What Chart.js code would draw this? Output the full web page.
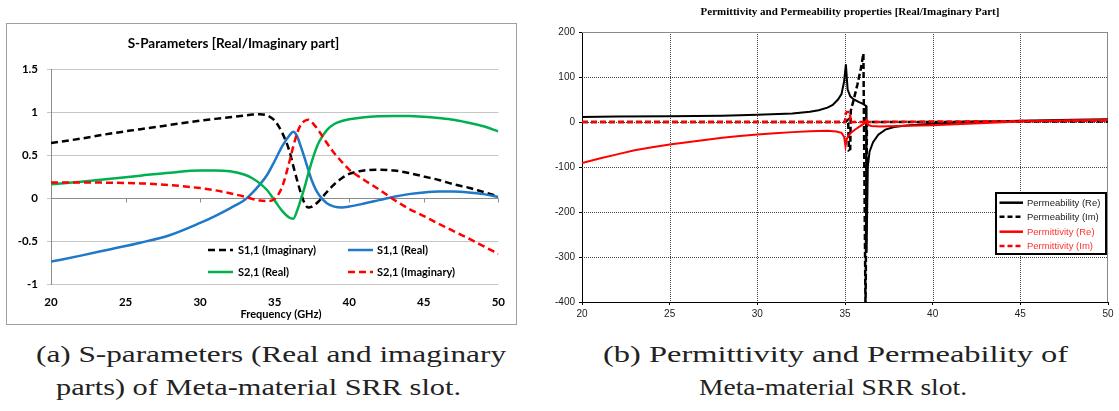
<!DOCTYPE html>
<html><head><meta charset="utf-8">
<script src="https://cdn.jsdelivr.net/npm/chart.js@4"></script>
<style>
html,body{margin:0;padding:0;background:#fff;width:1119px;height:411px;overflow:hidden;position:relative}
#frameA{position:absolute;left:6px;top:23px;width:511px;height:302px;box-sizing:border-box;border:1px solid #a0a0a0;background:#fff}
#cA{position:absolute;left:7px;top:24px;width:509px;height:300px}
#cB{position:absolute;left:540px;top:0px;width:579px;height:330px}
.cap{position:absolute;font-family:"Liberation Serif","Times New Roman",serif;font-size:24px;line-height:24px;white-space:nowrap;color:#222;transform-origin:0 0}
</style></head><body>
<div id="frameA"></div>
<canvas id="cA" width="509" height="300"></canvas>
<canvas id="cB" width="579" height="330"></canvas>
<div class="cap" data-w="470" style="left:36px;top:342px">(a) S-parameters (Real and imaginary</div>
<div class="cap" data-w="405" style="left:56px;top:375px">parts) of Meta-material SRR slot.</div>
<div class="cap" data-w="465" style="left:603px;top:342px">(b) Permittivity and Permeability of</div>
<div class="cap" data-w="268" style="left:699px;top:375px">Meta-material SRR slot.</div>
<script>
// ---------- (a) S-parameters ----------
const freqS   = [20,22,24,26,28,30,31,32,33,33.5,34,34.5,35,35.5,36,36.25,36.5,36.75,37,37.25,37.5,37.75,38,38.5,39,39.5,40,41,42,43,44,45,46,47,48,49,50];
const s11Imag = [0.64,0.69,0.75,0.80,0.85,0.90,0.92,0.94,0.96,0.97,0.975,0.96,0.90,0.76,0.54,0.37,0.21,0.06,-0.06,-0.11,-0.10,-0.07,-0.03,0.07,0.16,0.23,0.28,0.32,0.33,0.32,0.29,0.25,0.21,0.16,0.12,0.07,0.02];
const s11Real = [-0.74,-0.67,-0.595,-0.52,-0.43,-0.29,-0.21,-0.12,-0.02,0.06,0.155,0.27,0.43,0.60,0.73,0.77,0.72,0.60,0.47,0.33,0.20,0.10,0.03,-0.06,-0.10,-0.11,-0.10,-0.065,-0.025,0.015,0.045,0.065,0.075,0.075,0.065,0.045,0.01];
const s21Real = [0.16,0.19,0.225,0.26,0.295,0.32,0.32,0.31,0.27,0.23,0.17,0.09,-0.03,-0.15,-0.23,-0.24,-0.15,-0.02,0.12,0.28,0.43,0.56,0.66,0.79,0.86,0.895,0.915,0.94,0.95,0.953,0.953,0.945,0.93,0.91,0.875,0.835,0.775];
const s21Imag = [0.18,0.18,0.178,0.17,0.15,0.115,0.09,0.055,0.015,-0.01,-0.03,-0.035,-0.01,0.13,0.43,0.60,0.75,0.85,0.895,0.91,0.88,0.83,0.77,0.64,0.52,0.42,0.33,0.21,0.10,-0.02,-0.125,-0.21,-0.30,-0.385,-0.47,-0.56,-0.65];
const seriesNamesS = ['S1,1 (Imaginary)','S1,1 (Real)','S2,1 (Real)','S2,1 (Imaginary)'];
const xTicksS = [20,25,30,35,40,45,50];
const yTicksS = [-1,-0.5,0,0.5,1,1.5];

// ---------- (b) Permittivity / Permeability ----------
const muReF  = [20,22,25,28,30,32,33,33.5,34,34.3,34.6,34.8,34.95,35.05,35.15,35.3,35.5,35.8,36.0,36.15,36.2,36.23,36.3,36.4,36.6,36.9,37.3,37.8,38.5,40,42,45,48,50];
const muRe   = [11,12,13,14,16,19,23,26,32,38,50,62,90,128,72,57,50,44,41,37,36,-290,-100,-66,-45,-28,-17,-11,-8,-4,0,3,5,6];
const muImF  = [20,25,30,34,35.0,35.18,35.22,35.3,35.33,35.5,35.7,35.9,36.05,36.17,36.25,36.3,40,45,50];
const muIm   = [0,0,0,0,0,5,-62,-60,25,50,82,118,152,-420,-3,0,0,1,1];
const epsReF = [20,21,22,23,24,25,26,27,28,29,30,31,32,33,34,34.5,34.8,34.95,35.03,35.1,35.2,35.4,35.6,35.8,36.0,36.15,36.22,36.3,36.5,37,38,40,42,45,48,50];
const epsRe  = [-91,-81,-72,-63,-56,-50,-45,-40,-35,-31,-28,-25,-22.5,-20.5,-19.5,-21,-24,-33,-54,-38,-30,-22,-16,-11,-6,-2,4,-6,-9,-10,-9,-7,-4,1,4,5];
const epsImF = [20,30,35.0,35.05,35.1,35.28,35.32,35.4,36.1,36.2,36.3,40,45,50];
const epsIm  = [0,0,0,20,22,22,-3,0,0,6,0,1,2,3];
const seriesNamesP = ['Permeability (Re)','Permeability (Im)','Permittivity (Re)','Permittivity (Im)'];
const xTicksP = [20,25,30,35,40,45,50];
const yTicksP = [-400,-300,-200,-100,0,100,200];

const pts = (xs, ys) => xs.map((x, i) => ({x: x, y: ys[i]}));
const setTicks = arr => scale => { scale.ticks = arr.map(v => ({value: v})); };

// ---------- Chart A ----------
const LATO = 'Lato, "DejaVu Sans", sans-serif';
const decorA = {
  id: 'decorA',
  beforeDatasetsDraw(chart) {
    const {ctx, chartArea: a, scales: {x, y}} = chart;
    const y0 = Math.round(y.getPixelForValue(0)) + 0.5;
    ctx.save();
    ctx.strokeStyle = '#8c8c8c'; ctx.lineWidth = 1;
    ctx.beginPath();
    ctx.moveTo(a.left, y0); ctx.lineTo(a.right, y0);
    xTicksS.forEach(v => {
      const px = Math.round(x.getPixelForValue(v)) + 0.5;
      ctx.moveTo(px, y0); ctx.lineTo(px, y0 + 4);
    });
    ctx.stroke();
    ctx.restore();
  },
  afterDraw(chart) {
    const {ctx} = chart;
    ctx.save();
    ctx.fillStyle = '#000';
    ctx.textAlign = 'center'; ctx.textBaseline = 'middle';
    ctx.font = 'bold 13.5px ' + LATO;
    ctx.fillText('S-Parameters [Real/Imaginary part]', 226.5, 19.5);
    ctx.font = 'bold 11px ' + LATO;
    ctx.fillText('Frequency (GHz)', 274, 290);
    // legend
    const cols = [{lx: 201, tx: 231}, {lx: 341, tx: 370}];
    const rows = [226, 248];
    ctx.font = 'bold 11px ' + LATO;
    ctx.textAlign = 'left';
    chart.data.datasets.forEach((ds, i) => {
      const c = cols[i % 2], r = rows[Math.floor(i / 2)];
      ctx.strokeStyle = ds.borderColor; ctx.lineWidth = ds.borderWidth;
      ctx.setLineDash(ds.borderDash || []);
      ctx.beginPath(); ctx.moveTo(c.lx, r); ctx.lineTo(c.lx + 25, r); ctx.stroke();
      ctx.setLineDash([]);
      ctx.fillStyle = '#000';
      ctx.fillText(ds.label, c.tx, r + 0.5);
    });
    ctx.restore();
  }
};

const colorsS = ['#000000', '#1f78c8', '#00b050', '#ff0000'];
const dashS = [[7, 4], [], [], [7, 4]];
const valsS = [s11Imag, s11Real, s21Real, s21Imag];
new Chart(document.getElementById('cA'), {
  type: 'line',
  data: {
    datasets: valsS.map((v, i) => ({
      label: seriesNamesS[i],
      data: pts(freqS, v),
      borderColor: colorsS[i],
      borderWidth: 2.5,
      borderDash: dashS[i],
      pointRadius: 0,
      fill: false,
      cubicInterpolationMode: 'monotone',
      order: 4 - i
    }))
  },
  options: {
    responsive: false, animation: false,
    layout: {padding: {left: 0, top: 45, right: 15, bottom: 0}},
    plugins: {legend: {display: false}, tooltip: {enabled: false}, title: {display: false}},
    scales: {
      x: {
        type: 'linear', min: 20, max: 50,
        afterBuildTicks: setTicks(xTicksS),
        afterFit: s => { s.height = 40; },
        grid: {display: false, drawTicks: false},
        border: {display: false},
        ticks: {font: {family: LATO, size: 11.5, weight: 'bold'}, color: '#000', padding: 11, maxRotation: 0}
      },
      y: {
        type: 'linear', min: -1, max: 1.5,
        afterBuildTicks: setTicks(yTicksS),
        afterFit: s => { s.width = 44; },
        grid: {color: '#c6c6c6', lineWidth: 1, tickLength: 4, drawTicks: true},
        border: {display: true, color: '#8c8c8c'},
        ticks: {font: {family: LATO, size: 11.5, weight: 'bold'}, color: '#000', padding: 9, callback: v => String(v)}
      }
    }
  },
  plugins: [decorA]
});

// ---------- Chart B ----------
const SANS = '"Liberation Sans", Arial, sans-serif';
const decorB = {
  id: 'decorB',
  beforeDatasetsDraw(chart) {
    const {ctx, chartArea: a, scales: {x, y}} = chart;
    const t = Math.round(a.top), b = Math.round(a.bottom), l = Math.round(a.left), r = Math.round(a.right);
    ctx.save();
    // dotted grid
    ctx.strokeStyle = '#444444'; ctx.lineWidth = 1;
    ctx.setLineDash([1, 1]);
    ctx.beginPath();
    xTicksP.slice(1, -1).forEach(v => {
      const px = Math.round(x.getPixelForValue(v)) + 0.5;
      ctx.moveTo(px, t); ctx.lineTo(px, b);
    });
    yTicksP.slice(1, -1).forEach(v => {
      const py = Math.round(y.getPixelForValue(v)) + 0.5;
      ctx.moveTo(l, py); ctx.lineTo(r, py);
    });
    ctx.stroke();
    ctx.setLineDash([]);
    // top & right frame
    ctx.strokeStyle = '#8a8a8a';
    ctx.beginPath();
    ctx.moveTo(l, t + 0.5); ctx.lineTo(r, t + 0.5);
    ctx.moveTo(r - 0.5, t); ctx.lineTo(r - 0.5, b);
    ctx.stroke();
    ctx.restore();
  },
  afterDraw(chart) {
    const {ctx} = chart;
    ctx.save();
    ctx.fillStyle = '#000';
    ctx.textAlign = 'center'; ctx.textBaseline = 'middle';
    ctx.font = 'bold 11px "Liberation Serif", "Times New Roman", serif';
    ctx.fillText('Permittivity and Permeability properties [Real/Imaginary Part]', 310, 12);
    // legend box
    const bx = 455, by = 192, bw = 112, bh = 63;
    ctx.fillStyle = '#fff';
    ctx.fillRect(bx, by, bw, bh);
    ctx.strokeStyle = '#000'; ctx.lineWidth = 2;
    ctx.strokeRect(bx + 1, by + 1, bw - 2, bh - 2);
    const rows = [202.7, 216.7, 231.7, 246];
    ctx.font = '9.5px ' + SANS;
    ctx.textAlign = 'left';
    chart.data.datasets.forEach((ds, i) => {
      const rr = rows[i];
      ctx.strokeStyle = ds.borderColor; ctx.lineWidth = 2.5;
      ctx.setLineDash(ds.borderDash && ds.borderDash.length ? [5, 3] : []);
      ctx.beginPath(); ctx.moveTo(459.5, rr); ctx.lineTo(483, rr); ctx.stroke();
      ctx.setLineDash([]);
      ctx.fillStyle = ds.borderColor === '#000000' ? '#222' : '#ff3030';
      ctx.fillText(ds.label, 487, rr + 0.5);
    });
    ctx.restore();
  }
};

const colorsP = ['#000000', '#000000', '#ff0000', '#ff0000'];
const dashP = [[], [6, 3], [], [6, 3]];
const seriesP = [pts(muReF, muRe), pts(muImF, muIm), pts(epsReF, epsRe), pts(epsImF, epsIm)];
new Chart(document.getElementById('cB'), {
  type: 'line',
  data: {
    datasets: seriesP.map((d, i) => ({
      label: seriesNamesP[i],
      data: d,
      borderColor: colorsP[i],
      borderWidth: i % 2 ? 2.5 : 2,
      borderDash: dashP[i],
      pointRadius: 0,
      fill: false,
      tension: 0,
      order: 4 - i
    }))
  },
  options: {
    responsive: false, animation: false,
    layout: {padding: {left: 0, top: 32, right: 11, bottom: 0}},
    plugins: {legend: {display: false}, tooltip: {enabled: false}, title: {display: false}},
    scales: {
      x: {
        type: 'linear', min: 20, max: 50,
        afterBuildTicks: setTicks(xTicksP),
        afterFit: s => { s.height = 28; },
        grid: {drawOnChartArea: false, lineWidth: 1, tickLength: 3, tickColor: '#000', drawTicks: true},
        border: {display: true, color: '#000'},
        ticks: {font: {family: SANS, size: 10}, color: '#222', padding: 3, maxRotation: 0}
      },
      y: {
        type: 'linear', min: -400, max: 200,
        afterBuildTicks: setTicks(yTicksP),
        afterFit: s => { s.width = 42; },
        grid: {drawOnChartArea: false, lineWidth: 1, tickLength: 3, tickColor: '#000', drawTicks: true},
        border: {display: true, color: '#000'},
        ticks: {font: {family: SANS, size: 10}, color: '#222', padding: 4}
      }
    }
  },
  plugins: [decorB]
});

// ---------- captions: fit to measured widths ----------
document.querySelectorAll('.cap').forEach(el => {
  const w = el.getBoundingClientRect().width;
  const target = parseFloat(el.dataset.w);
  el.style.transform = 'scaleX(' + (target / w).toFixed(4) + ')';
});
</script>
</body></html>
